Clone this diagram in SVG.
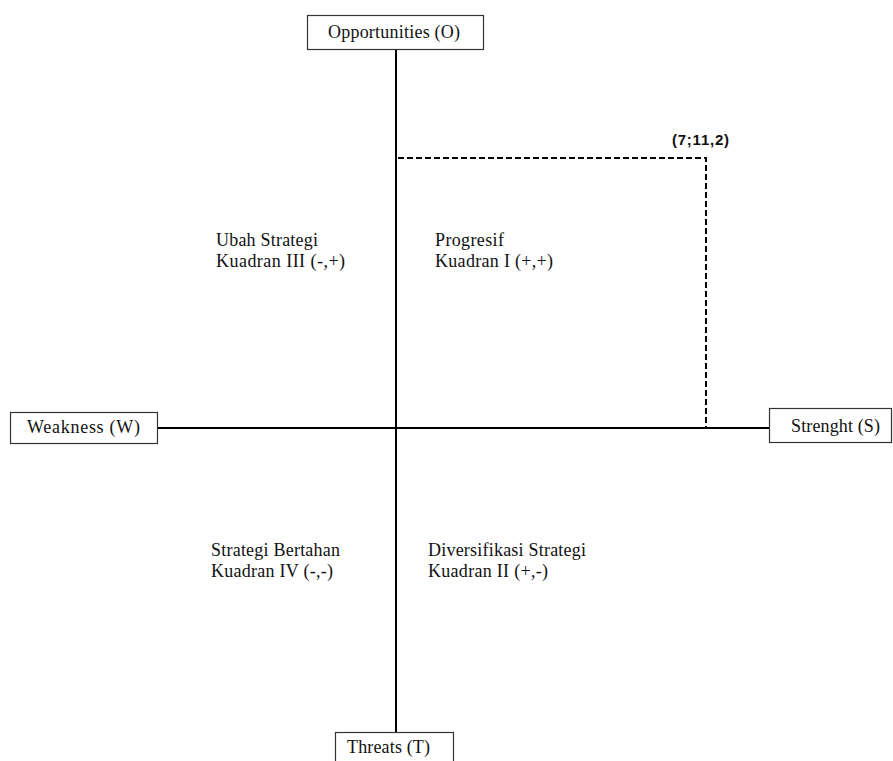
<svg xmlns="http://www.w3.org/2000/svg" width="893" height="761" viewBox="0 0 893 761">
<style>
.box{fill:#fff;stroke:#333;stroke-width:1.2}
.lbl{font-family:"Liberation Serif","Times New Roman",serif;font-size:18px;fill:#111}
.axis{stroke:#000;stroke-width:2;fill:none}
.dash{stroke:#000;stroke-width:2;fill:none;stroke-dasharray:6,3}
.pt{font-family:"Liberation Sans",Arial,sans-serif;font-size:15px;font-weight:bold;fill:#111}
</style>
<rect width="893" height="761" fill="#fff"/>
<g id="connectors">
<line class="axis" x1="396" y1="49" x2="396" y2="732"/>
<line class="axis" x1="157" y1="428" x2="769" y2="428"/>
<polyline class="dash" points="398,158 706,158 706,427"/>
</g>
<g id="node-opportunities">
<rect class="box" x="307.5" y="15.5" width="176" height="34"/>
<text class="lbl" x="328" y="38" textLength="132">Opportunities (O)</text>
</g>
<g id="node-weakness">
<rect class="box" x="10.5" y="412.5" width="147" height="31"/>
<text class="lbl" x="27" y="433" textLength="113">Weakness (W)</text>
</g>
<g id="node-strenght">
<rect class="box" x="769.5" y="408.5" width="122" height="34"/>
<text class="lbl" x="791" y="432" textLength="89">Strenght (S)</text>
</g>
<g id="node-threats">
<rect class="box" x="335.5" y="732.5" width="118" height="35"/>
<text class="lbl" x="347" y="753" textLength="83">Threats (T)</text>
</g>
<g id="point">
<text class="pt" x="672" y="145" textLength="57">(7;11,2)</text>
</g>
<g id="q3">
<text class="lbl" x="216" y="246" textLength="102">Ubah Strategi</text>
<text class="lbl" x="216" y="267" textLength="129">Kuadran III (-,+)</text>
</g>
<g id="q1">
<text class="lbl" x="435" y="246" textLength="69">Progresif</text>
<text class="lbl" x="435" y="267" textLength="118">Kuadran I (+,+)</text>
</g>
<g id="q4">
<text class="lbl" x="211" y="556" textLength="129">Strategi Bertahan</text>
<text class="lbl" x="211" y="577" textLength="122">Kuadran IV (-,-)</text>
</g>
<g id="q2">
<text class="lbl" x="428" y="556" textLength="158">Diversifikasi Strategi</text>
<text class="lbl" x="428" y="577" textLength="120">Kuadran II (+,-)</text>
</g>
</svg>
